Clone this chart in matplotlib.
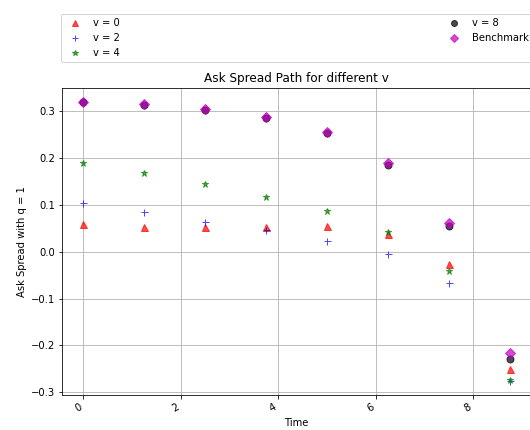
import matplotlib
matplotlib.use("Agg")
import matplotlib.pyplot as plt

times = [0.0, 1.25, 2.5, 3.75, 5.0, 6.25, 7.5, 8.75]
v0 = [0.060, 0.054, 0.053, 0.054, 0.055, 0.039, -0.025, -0.250]
v2 = [0.104, 0.084, 0.064, 0.046, 0.024, -0.004, -0.067, -0.276]
v4 = [0.189, 0.169, 0.144, 0.118, 0.087, 0.043, -0.042, -0.274]
v8 = [0.319, 0.314, 0.303, 0.286, 0.253, 0.185, 0.056, -0.228]
bench = [0.320, 0.316, 0.306, 0.288, 0.255, 0.190, 0.061, -0.216]

fig = plt.figure(figsize=(530 / 72, 430 / 72), dpi=72)
ax = fig.add_axes([62 / 530, 35 / 430, 469 / 530, 307 / 430])

ax.plot(times, v0, "r^", alpha=0.7, ms=7, label="v = 0")
ax.plot(times, v2, "b+", alpha=0.7, ms=7, label="v = 2")
ax.plot(times, v4, "g*", alpha=0.7, ms=7, label="v = 4")
ax.plot(times, v8, "ko", alpha=0.7, ms=7, label="v = 8")
ax.plot(times, bench, "mD", alpha=0.7, ms=7, label="Benchmark")

ax.grid(True)
ax.set_title("Ask Spread Path for different v", fontsize=12)
ax.set_xlabel("Time", fontsize=10)
ax.set_ylabel("Ask Spread with q = 1", fontsize=10)
ax.tick_params(labelsize=10)
for lab in ax.get_xticklabels():
    lab.set_rotation(30)
    lab.set_ha("right")

fig.legend(loc="lower left", bbox_to_anchor=(61 / 530, 1 - 62 / 430, 472 / 530, 50 / 430),
           mode="expand", ncol=2, fontsize=10, borderaxespad=0, markerscale=0.85)

fig.savefig("out.png", dpi=72)
